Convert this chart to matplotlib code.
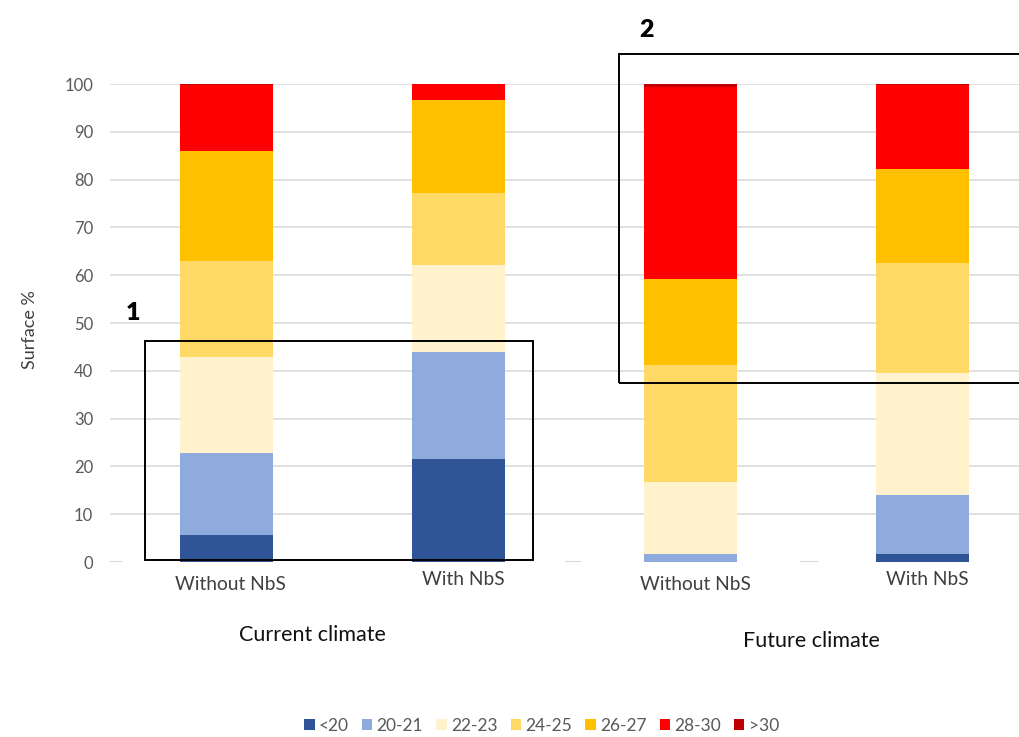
import matplotlib
import matplotlib.pyplot as plt
from matplotlib.patches import Rectangle

plt.rcParams["font.family"] = ["Lato", "DejaVu Sans"]

# surface share (%) of each temperature class, one value per bar
classes = ["<20", "20-21", "22-23", "24-25", "26-27", "28-30", ">30"]
scenarios = ["Without NbS", "With NbS", "Without NbS", "With NbS"]
climates = ["Current climate", "Future climate"]
share_lt20 = [5.7, 21.5, 0.0, 1.6]
share_20_21 = [17.2, 22.4, 1.7, 12.4]
share_22_23 = [20.0, 18.2, 15.0, 25.5]
share_24_25 = [20.0, 15.0, 24.6, 23.1]
share_26_27 = [23.1, 19.5, 18.0, 19.6]
share_28_30 = [13.8, 3.4, 40.1, 17.5]
share_gt30 = [0.2, 0.0, 0.6, 0.3]
colors = ["#2F5597", "#8FAADC", "#FFF2CC", "#FFD966", "#FFC000", "#FF0000", "#C00000"]

series = [share_lt20, share_20_21, share_22_23, share_24_25,
          share_26_27, share_28_30, share_gt30]

fig = plt.figure(figsize=(10.2, 7.37), dpi=100)
ax = fig.add_axes([0.1078, 0.2374, 0.9108, 0.6486])

x = list(range(len(scenarios)))
bottom = [0.0] * len(scenarios)
for label, values, color in zip(classes, series, colors):
    ax.bar(x, values, width=0.4, bottom=bottom, color=color, label=label,
           edgecolor="none", zorder=3)
    bottom = [b + v for b, v in zip(bottom, values)]

ax.set_xlim(-0.5, 3.5)
ax.set_ylim(0, 100)
ax.set_yticks(range(0, 101, 10))
ax.tick_params(axis="y", length=0, pad=12, labelsize=12, labelcolor="#595959")
ax.set_xticks([])
for side in ax.spines.values():
    side.set_visible(False)
ax.grid(axis="y", color="#d9d9d9", linewidth=1.1, zorder=0)
ax.yaxis.get_major_ticks()[0].gridline.set_visible(False)
# the category axis only shows short stubs at y = 0
ax.hlines([0, 0, 0], [-0.5, 1.46, 2.47], [-0.45, 1.53, 2.55], color="#d9d9d9",
          linewidth=1.5, zorder=1)

# scenario labels under each bar, climate labels under each pair
xt = ax.get_xaxis_transform()
for xi, name in zip(x, scenarios):
    y_lab = -0.048 if name.startswith("Without") else -0.036
    ax.text(xi + 0.02, y_lab, name, transform=xt, ha="center", va="center",
            fontsize=13.8, color="#404040")
for xc, yc, name in zip([0.37, 2.52], [-0.153, -0.165], climates):
    ax.text(xc, yc, name, transform=xt, ha="center", va="center",
            fontsize=15.5, color="#111111")

fig.text(30 / 1020, 1 - 330 / 737, "Surface %", rotation=90, ha="center",
         va="center", fontsize=13, color="#404040")

# highlighted zones
ax.add_patch(Rectangle((-0.35, 0.4), 1.67, 45.9, fill=False, edgecolor="black",
                       linewidth=1.4, zorder=5, clip_on=False))
ax.add_patch(Rectangle((1.69, 37.4), 2.0, 68.9, fill=False, edgecolor="black",
                       linewidth=1.4, zorder=5, clip_on=False))
ax.text(-0.40, 52.1, "1", ha="center", va="center", fontsize=18,
        fontweight="heavy", clip_on=False)
ax.text(1.81, 111.3, "2", ha="center", va="center", fontsize=18,
        fontweight="heavy", clip_on=False)

fig.legend(loc="center", bbox_to_anchor=(0.531, 1 - 726 / 737), ncol=7,
           frameon=False, fontsize=12.5, handlelength=0.6, handleheight=0.6,
           handletextpad=0.25, columnspacing=0.75, labelcolor="#595959")

fig.savefig("out.png", dpi=100)
